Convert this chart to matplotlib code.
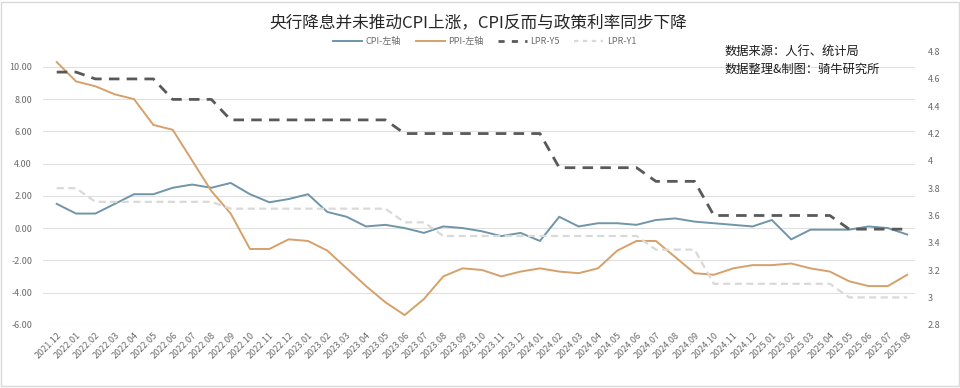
import matplotlib
matplotlib.use('Agg')
import matplotlib.pyplot as plt
from matplotlib.lines import Line2D
from matplotlib.patches import Rectangle
from matplotlib.ticker import FuncFormatter

plt.rcParams['font.family'] = ['Noto Sans CJK SC', 'DejaVu Sans']

# 月份 2021.12 - 2025.08
months = ['2021.12',
          '2022.01', '2022.02', '2022.03', '2022.04', '2022.05', '2022.06',
          '2022.07', '2022.08', '2022.09', '2022.10', '2022.11', '2022.12',
          '2023.01', '2023.02', '2023.03', '2023.04', '2023.05', '2023.06',
          '2023.07', '2023.08', '2023.09', '2023.10', '2023.11', '2023.12',
          '2024.01', '2024.02', '2024.03', '2024.04', '2024.05', '2024.06',
          '2024.07', '2024.08', '2024.09', '2024.10', '2024.11', '2024.12',
          '2025.01', '2025.02', '2025.03', '2025.04', '2025.05', '2025.06',
          '2025.07', '2025.08']

cpi = [1.5,
       0.9, 0.9, 1.5, 2.1, 2.1, 2.5, 2.7, 2.5, 2.8, 2.1, 1.6, 1.8,
       2.1, 1.0, 0.7, 0.1, 0.2, 0.0, -0.3, 0.1, 0.0, -0.2, -0.5, -0.3,
       -0.8, 0.7, 0.1, 0.3, 0.3, 0.2, 0.5, 0.6, 0.4, 0.3, 0.2, 0.1,
       0.5, -0.7, -0.1, -0.1, -0.1, 0.1, 0.0, -0.4]

ppi = [10.3,
       9.1, 8.8, 8.3, 8.0, 6.4, 6.1, 4.2, 2.3, 0.9, -1.3, -1.3, -0.7,
       -0.8, -1.4, -2.5, -3.6, -4.6, -5.4, -4.4, -3.0, -2.5, -2.6, -3.0, -2.7,
       -2.5, -2.7, -2.8, -2.5, -1.4, -0.8, -0.8, -1.8, -2.8, -2.9, -2.5, -2.3,
       -2.3, -2.2, -2.5, -2.7, -3.3, -3.6, -3.6, -2.9]

lpr5 = [4.65,
        4.65, 4.60, 4.60, 4.60, 4.60, 4.45, 4.45, 4.45, 4.30, 4.30, 4.30, 4.30,
        4.30, 4.30, 4.30, 4.30, 4.30, 4.20, 4.20, 4.20, 4.20, 4.20, 4.20, 4.20,
        4.20, 3.95, 3.95, 3.95, 3.95, 3.95, 3.85, 3.85, 3.85, 3.60, 3.60, 3.60,
        3.60, 3.60, 3.60, 3.60, 3.50, 3.50, 3.50, 3.50]

lpr1 = [3.80,
        3.80, 3.70, 3.70, 3.70, 3.70, 3.70, 3.70, 3.70, 3.65, 3.65, 3.65, 3.65,
        3.65, 3.65, 3.65, 3.65, 3.65, 3.55, 3.55, 3.45, 3.45, 3.45, 3.45, 3.45,
        3.45, 3.45, 3.45, 3.45, 3.45, 3.45, 3.35, 3.35, 3.35, 3.10, 3.10, 3.10,
        3.10, 3.10, 3.10, 3.10, 3.00, 3.00, 3.00, 3.00]

left_ticks = [-6, -4, -2, 0, 2, 4, 6, 8, 10]
right_ticks = [2.8, 3.0, 3.2, 3.4, 3.6, 3.8, 4.0, 4.2, 4.4, 4.6, 4.8]

c_cpi = '#6F95AA'
c_ppi = '#D6A06A'
c_y5 = '#595959'
c_y1 = '#D9D9D9'
c_txt = '#6A6A6A'

fig = plt.figure(figsize=(9.6, 3.88), dpi=100)
ax = fig.add_axes([0.045, 0.163, 0.908, 0.704])
ax2 = ax.twinx()

x = list(range(len(months)))
ax.plot(x, cpi, color=c_cpi, lw=1.4)
ax.plot(x, ppi, color=c_ppi, lw=1.4)
ax2.plot(x, lpr5, color=c_y5, lw=2.0, dashes=(3.8, 2.6))
ax2.plot(x, lpr1, color=c_y1, lw=1.6, dashes=(3.2, 2.0))

ax.set_xlim(-0.7, 44.4)
ax.set_ylim(-6, 10.95)
ax.set_yticks(left_ticks)
ax.yaxis.set_major_formatter(FuncFormatter(lambda v, p: f'{v:.2f}'))
ax2.set_ylim(2.8, 4.8)
ax2.set_yticks(right_ticks)
ax2.yaxis.set_major_formatter(FuncFormatter(lambda v, p: f'{v:g}'))

ax.grid(axis='y', color='#E0E0E0', lw=0.8)
ax.set_axisbelow(True)
for a in (ax, ax2):
    for s in a.spines.values():
        s.set_visible(False)
ax.tick_params(axis='y', length=0, pad=8, labelsize=6.5, labelcolor=c_txt)
ax2.tick_params(axis='y', length=0, pad=9, labelsize=6.5, labelcolor=c_txt)
ax.set_xticks(x)
ax.set_xticklabels(months, rotation=45, ha='right', rotation_mode='anchor')
ax.tick_params(axis='x', length=0, pad=4, labelsize=6.5, labelcolor=c_txt)

fig.text(0.498, 0.94, '央行降息并未推动CPI上涨，CPI反而与政策利率同步下降',
         ha='center', va='center', fontsize=12, color='#262626')
fig.text(0.755, 0.845, '数据来源：人行、统计局\n数据整理&制图：骑牛研究所',
         ha='left', va='center', fontsize=8.8, color='#1a1a1a', linespacing=1.45)

handles = [Line2D([], [], color=c_cpi, lw=1.4),
           Line2D([], [], color=c_ppi, lw=1.4),
           Line2D([], [], color=c_y5, lw=2.0, dashes=(2.2, 2.6)),
           Line2D([], [], color=c_y1, lw=1.6, dashes=(2.0, 2.0))]
fig.legend(handles, ['CPI-左轴', 'PPI-左轴', 'LPR-Y5', 'LPR-Y1'],
           loc='center', bbox_to_anchor=(0.505, 0.893), ncol=4, frameon=False,
           fontsize=6.5, labelcolor=c_txt, handlelength=3.2, columnspacing=1.6,
           handletextpad=0.4)

fig.patches.append(Rectangle((0.001, 0.006), 0.998, 0.99, transform=fig.transFigure,
                             fill=False, edgecolor='#D9D9D9', lw=1.0))

fig.savefig('out.png', dpi=100, facecolor='white')
